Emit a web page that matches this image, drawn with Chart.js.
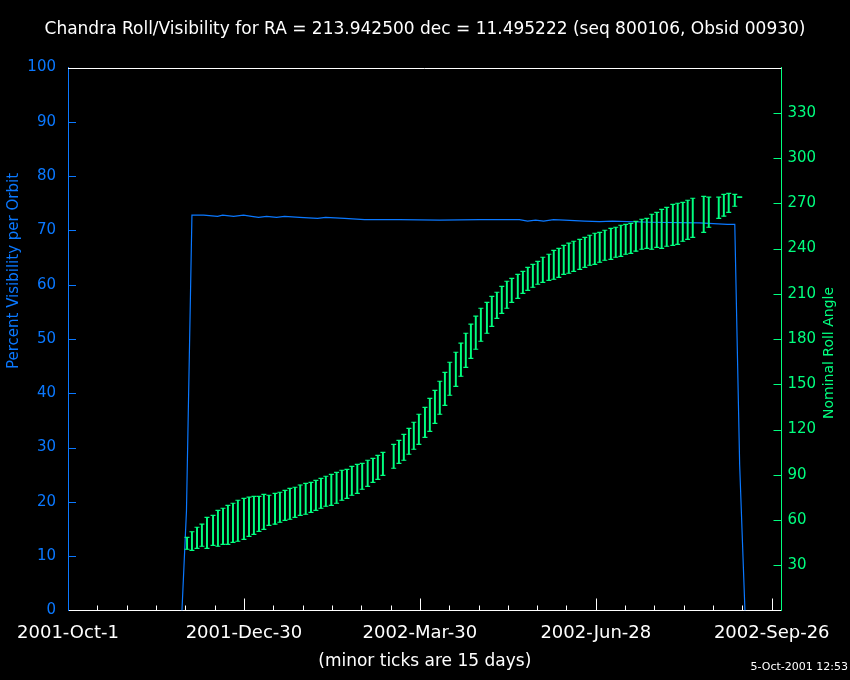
<!DOCTYPE html>
<html>
<head>
<meta charset="utf-8">
<title>Chandra Roll/Visibility</title>
<script src="https://cdn.jsdelivr.net/npm/chart.js@4.4.1/dist/chart.umd.min.js"></script>
<style>
  html, body { margin: 0; padding: 0; background: #000; }
</style>
</head>
<body>
<canvas id="roll-chart" width="850" height="680"></canvas>
<script>
const TITLE = "Chandra Roll/Visibility for RA = 213.942500 dec = 11.495222 (seq 800106, Obsid 00930)";
const STAMP = "5-Oct-2001 12:53";
const X_TITLE = "(minor ticks are 15 days)";
const Y_TITLE = "Percent Visibility per Orbit";
const Y2_TITLE = "Nominal Roll Angle";

const WHITE = "#ffffff";
const BLUE = "#0a78ff";
const GREEN = "#00ff7f";
const FONT = "'DejaVu Sans', sans-serif";

// x axis is days after 2001-Oct-1
const MAJOR_TICK_DAYS = [0, 90, 180, 270, 360];
const MAJOR_TICK_LABELS = ["2001-Oct-1", "2001-Dec-30", "2002-Mar-30", "2002-Jun-28", "2002-Sep-26"];

// percent visibility per orbit
const visDays = [58.3, 60.6, 63.4, 69.4, 76.5, 79.1, 84.7, 89.8, 93.9, 97.5,
  101.6, 106.7, 110.8, 118.5, 127.7, 131.8, 141.5, 151.7, 169.6, 190.1,
  210.5, 230.9, 235.1, 239.2, 243.3, 248.4, 254.0, 264.2, 271.9, 278.5,
  297.5, 323.0, 337.3, 341.1, 343.6, 346.3];
const visPct = [0, 18.3, 72.8, 72.8, 72.6, 72.8, 72.6, 72.8, 72.6, 72.4,
  72.6, 72.4, 72.6, 72.4, 72.2, 72.4, 72.2, 72.0, 72.0, 71.9,
  72.0, 72.0, 71.7, 71.9, 71.7, 72.0, 71.9, 71.7, 71.6, 71.7,
  71.5, 71.4, 71.1, 71.1, 26.8, 0];

// nominal roll angle range (deg)
const rollDays = [60.9, 63.4, 66.0, 68.5, 71.1, 74.2, 76.7, 79.3, 81.8, 84.4, 86.9,
  90.0, 92.6, 95.1, 97.7, 100.2, 102.8, 105.9, 108.4, 111.0, 113.5, 116.1,
  118.8, 121.6, 124.3, 126.8, 129.4, 131.9, 134.7, 137.4, 140.1, 142.7, 145.2,
  148.0, 150.5, 153.3, 156.0, 158.5, 161.1, 166.6, 169.3, 171.8, 174.4,
  176.9, 179.5, 182.6, 185.1, 187.7, 190.2, 192.8, 195.3, 198.4, 201.0, 203.5,
  206.1, 208.6, 211.2, 214.3, 216.8, 219.4, 221.9, 224.5, 227.0, 230.1,
  232.7, 235.2, 237.8, 240.3, 242.9, 246.0, 248.5, 251.1, 253.6, 256.2, 258.7,
  261.8, 264.4, 266.9, 269.5, 272.0, 274.6, 277.7, 280.2, 282.8, 285.3, 287.9, 290.5,
  293.5, 296.1, 298.6, 301.2, 303.7, 306.3, 309.4, 311.9, 314.5, 317.0, 319.6,
  325.2, 327.8, 332.9, 335.5, 338.0, 341.1, 343.6];
const rollMax = [48.5, 52.2, 55.2, 57.2, 61.8, 63.1, 66.4, 67.8, 69.7, 71.1, 73.1,
  74.4, 75.1, 75.7, 75.7, 77.0, 76.4, 77.7, 78.4, 79.7, 81.0, 81.7,
  83.2, 84.3, 85.0, 86.3, 87.6, 89.0, 90.3, 91.6, 93.0, 93.6, 95.6,
  96.9, 97.6, 99.6, 100.9, 102.9, 104.9, 110.2, 112.8, 116.8, 120.8,
  124.8, 130.1, 134.7, 140.7, 146.0, 152.0, 157.9, 164.6, 171.2, 177.2, 183.8,
  189.8, 195.1, 200.4, 204.3, 208.3, 211.0, 214.9, 218.3, 220.2, 222.9,
  224.9, 227.5, 229.5, 231.5, 234.2, 236.2, 238.8, 240.1, 242.1, 243.5, 244.8,
  246.1, 247.4, 248.8, 250.1, 250.7, 252.1, 253.4, 254.1, 255.4, 256.0, 256.7, 258.0,
  259.4, 260.0, 262.7, 264.0, 266.0, 267.3, 269.3, 270.0, 270.6, 272.0, 273.3,
  274.6, 274.0, 274.0, 275.9, 276.6, 275.9, 274.0];
const rollMin = [40.6, 39.9, 41.2, 42.6, 41.2, 43.2, 42.6, 43.9, 43.9, 45.2, 45.9,
  47.2, 49.2, 50.5, 52.5, 53.8, 56.5, 57.2, 58.5, 59.8, 60.5, 61.8,
  63.1, 63.8, 65.1, 66.4, 67.8, 69.1, 69.7, 71.1, 73.1, 74.4, 76.4,
  77.7, 80.4, 82.3, 85.0, 87.0, 89.6, 94.3, 97.6, 99.6, 103.6,
  106.9, 110.2, 114.8, 118.8, 124.1, 130.1, 136.0, 142.7, 148.6, 155.3, 161.2,
  167.2, 173.2, 178.5, 183.8, 188.4, 193.7, 197.0, 200.4, 204.3, 207.0,
  210.3, 212.3, 214.3, 216.3, 217.6, 218.9, 219.6, 220.9, 222.9, 223.6, 224.9,
  226.2, 227.5, 228.9, 229.5, 230.9, 232.2, 232.8, 234.2, 234.8, 236.2, 236.8, 238.2,
  239.5, 240.1, 239.5, 240.8, 240.1, 241.5, 242.1, 242.8, 244.8, 246.1, 247.4,
  250.7, 254.1, 260.0, 261.4, 264.0, 268.0, 274.0];

function line(ctx, x1, y1, x2, y2, color) {
  ctx.strokeStyle = color;
  ctx.lineWidth = 1;
  ctx.beginPath();
  ctx.moveTo(x1, y1);
  ctx.lineTo(x2, y2);
  ctx.stroke();
}

function rotatedText(ctx, text, x, y, color, font) {
  ctx.save();
  ctx.translate(x, y);
  ctx.rotate(-Math.PI / 2);
  ctx.fillStyle = color;
  ctx.font = font;
  ctx.textAlign = "center";
  ctx.textBaseline = "middle";
  ctx.fillText(text, 0, 0);
  ctx.restore();
}

// inward tick marks, top frame line, side titles and the date stamp
const framePlugin = {
  id: "frame",
  afterDraw(chart) {
    const { ctx, chartArea: area, scales } = chart;
    ctx.save();
    line(ctx, area.left, Math.round(area.top) + 0.5, area.right, Math.round(area.top) + 0.5, WHITE);

    scales.x.ticks.forEach((t) => {
      if (t.value % 15 !== 0 || t.value === 0) return;
      const x = Math.round(scales.x.getPixelForValue(t.value)) + 0.5;
      const len = t.value % 90 === 0 ? 12 : 5;
      line(ctx, x, area.bottom, x, area.bottom - len, WHITE);
    });
    scales.y.ticks.forEach((t) => {
      if (t.value === 0 || t.value === 100) return;
      const y = Math.round(scales.y.getPixelForValue(t.value)) + 0.5;
      line(ctx, area.left, y, area.left + 8, y, BLUE);
    });
    scales.y2.ticks.forEach((t) => {
      if (t.value === 0 || t.value === 360) return;
      const y = Math.round(scales.y2.getPixelForValue(t.value)) + 0.5;
      line(ctx, area.right, y, area.right - 8, y, GREEN);
    });

    rotatedText(ctx, Y_TITLE, 14, 271, BLUE, "15px " + FONT);
    rotatedText(ctx, Y2_TITLE, 829, 353, GREEN, "14px " + FONT);

    ctx.fillStyle = WHITE;
    ctx.font = "11px " + FONT;
    ctx.textAlign = "right";
    ctx.textBaseline = "middle";
    ctx.fillText(STAMP, 848, 667);
    ctx.restore();
  },
};

new Chart(document.getElementById("roll-chart"), {
  type: "line",
  data: {
    datasets: [
      {
        type: "bar",
        label: "roll range",
        data: rollDays.map((d, i) => ({ x: d, y: [rollMin[i], rollMax[i]] })),
        yAxisID: "y2",
        backgroundColor: GREEN,
        borderWidth: 0,
        barThickness: 1.3,
        order: 1,
      },
      {
        label: "roll max",
        data: rollDays.map((d, i) => ({ x: d, y: rollMax[i] })),
        yAxisID: "y2",
        showLine: false,
        pointStyle: "line",
        pointRadius: 2.5,
        pointBorderColor: GREEN,
        pointBorderWidth: 1.2,
        order: 0,
      },
      {
        label: "roll min",
        data: rollDays.map((d, i) => ({ x: d, y: rollMin[i] })),
        yAxisID: "y2",
        showLine: false,
        pointStyle: "line",
        pointRadius: 2.5,
        pointBorderColor: GREEN,
        pointBorderWidth: 1.2,
        order: 0,
      },
      {
        label: "visibility",
        data: visDays.map((d, i) => ({ x: d, y: visPct[i] })),
        yAxisID: "y",
        borderColor: BLUE,
        borderWidth: 1.2,
        pointRadius: 0,
        tension: 0,
        order: 2,
      },
    ],
  },
  options: {
    responsive: false,
    animation: false,
    events: [],
    layout: { padding: 0 },
    plugins: {
      legend: { display: false },
      tooltip: { enabled: false },
      title: {
        display: true,
        text: TITLE,
        color: WHITE,
        font: { family: FONT, size: 17, weight: "normal" },
        padding: { top: 19, bottom: 28.1 },
      },
    },
    scales: {
      x: {
        type: "linear",
        position: "bottom",
        min: 0,
        max: 365,
        offset: false,
        grid: { display: false, drawTicks: false },
        border: { color: WHITE, width: 1 },
        ticks: {
          stepSize: 15,
          includeBounds: false,
          autoSkip: false,
          maxRotation: 0,
          color: WHITE,
          padding: 12,
          font: { family: FONT, size: 18 },
          callback: (v) => {
            const i = MAJOR_TICK_DAYS.indexOf(v);
            return i >= 0 ? MAJOR_TICK_LABELS[i] : "";
          },
        },
        title: {
          display: true,
          text: X_TITLE,
          color: WHITE,
          font: { family: FONT, size: 17 },
          padding: { top: 0, bottom: 8 },
        },
        afterFit: (s) => { s.height = 69.5; },
      },
      y: {
        position: "left",
        min: 0,
        max: 100,
        grid: { display: false, drawTicks: false },
        border: { color: BLUE, width: 1 },
        ticks: {
          stepSize: 10,
          color: BLUE,
          padding: 12,
          font: { family: FONT, size: 15 },
        },
        afterFit: (s) => { s.width = 68; },
      },
      y2: {
        position: "right",
        min: 0,
        max: 360,
        grid: { display: false, drawTicks: false },
        border: { color: GREEN, width: 1 },
        ticks: {
          stepSize: 30,
          color: GREEN,
          padding: 6,
          font: { family: FONT, size: 15 },
          callback: (v) => (v === 0 || v === 360 ? "" : v),
        },
        afterFit: (s) => { s.width = 68.5; },
      },
    },
  },
  plugins: [framePlugin],
});
</script>
</body>
</html>
